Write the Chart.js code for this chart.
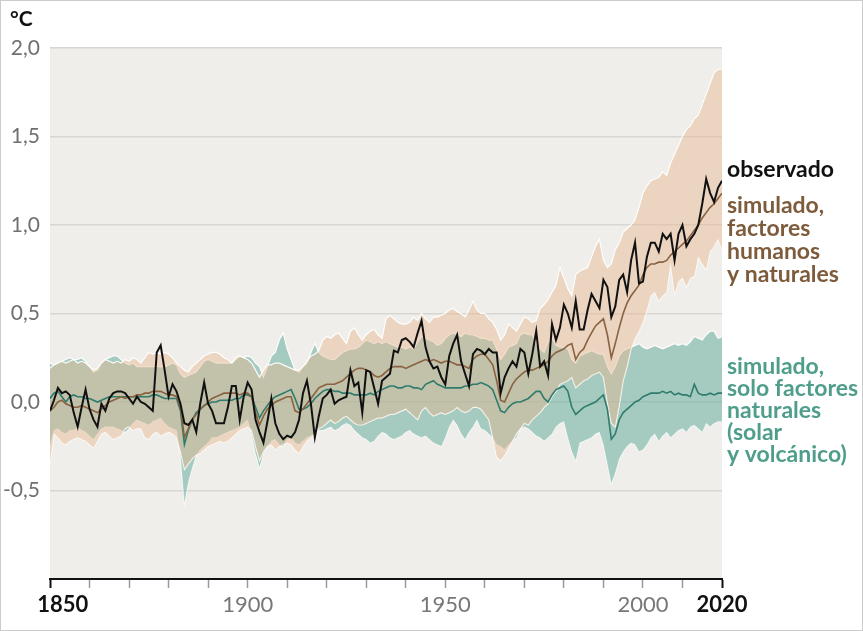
<!DOCTYPE html>
<html>
<head>
<meta charset="utf-8">
<script src="https://cdn.jsdelivr.net/npm/chart.js@4.4.1/dist/chart.umd.min.js"></script>
<style>
  body { margin: 0; background: #fff; }
  canvas { display: block; }
</style>
</head>
<body>
<canvas id="chart" width="863" height="631"></canvas>
<script>
// años 1850-2020, un valor por año (anomalía en °C)
var years = [];
for (var yr = 1850; yr <= 2020; yr++) years.push(yr);

var observado = [
  -0.05, 0.01, 0.08, 0.05, 0.06, 0.04, -0.06, -0.14, -0.03, 0.07,
  -0.04, -0.10, -0.14, -0.01, -0.05, 0.02, 0.05, 0.06, 0.06, 0.05,
  0.02, -0.01, 0.03, 0.00, -0.01, -0.03, -0.05, 0.28, 0.32, 0.18,
  0.03, 0.10, 0.06, -0.01, -0.12, -0.13, -0.10, -0.17, -0.01, 0.11,
  -0.01, -0.05, -0.12, -0.12, -0.12, -0.03, 0.09, 0.09, -0.10, 0.03,
  0.11, 0.07, -0.10, -0.17, -0.23, -0.11, 0.02, -0.12, -0.18, -0.21,
  -0.19, -0.20, -0.17, -0.10, 0.05, 0.12, -0.01, -0.20, -0.08, 0.02,
  0.04, 0.07, -0.01, 0.01, 0.02, 0.03, 0.18, 0.09, 0.11, -0.06,
  0.18, 0.17, 0.08, -0.01, 0.12, 0.14, 0.16, 0.29, 0.28, 0.35,
  0.36, 0.34, 0.31, 0.39, 0.46, 0.31, 0.23, 0.19, 0.20, 0.14,
  0.10, 0.26, 0.33, 0.38, 0.23, 0.16, 0.09, 0.27, 0.30, 0.29,
  0.27, 0.30, 0.28, 0.28, 0.05, 0.14, 0.19, 0.23, 0.20, 0.30,
  0.28, 0.16, 0.27, 0.40, 0.20, 0.23, 0.15, 0.44, 0.35, 0.42,
  0.55, 0.50, 0.42, 0.57, 0.41, 0.41, 0.52, 0.61, 0.57, 0.53,
  0.69, 0.65, 0.48, 0.54, 0.69, 0.72, 0.62, 0.80, 0.90, 0.67,
  0.68, 0.82, 0.90, 0.90, 0.85, 0.95, 0.92, 0.95, 0.80, 0.95,
  1.00, 0.88, 0.92, 0.95, 1.00, 1.12, 1.26, 1.18, 1.13, 1.21,
  1.25
];

// simulado, factores humanos y naturales
var humanos = [
  -0.05, -0.03, 0.00, 0.01, -0.01, -0.02, -0.03, -0.03, -0.02, -0.03,
  -0.04, -0.05, -0.06, -0.04, -0.02, 0.00, 0.01, 0.02, 0.03, 0.02,
  0.03, 0.03, 0.04, 0.04, 0.05, 0.05, 0.06, 0.06, 0.06, 0.05,
  0.04, 0.04, 0.03, -0.03, -0.20, -0.15, -0.10, -0.07, -0.04, -0.02,
  0.00, 0.02, 0.03, 0.04, 0.05, 0.05, 0.05, 0.05, 0.04, 0.05,
  0.05, 0.03, -0.06, -0.13, -0.08, -0.04, -0.02, 0.00, 0.01, 0.02,
  0.03, 0.03, -0.05, -0.06, -0.04, -0.01, 0.02, 0.05, 0.08, 0.09,
  0.10, 0.10, 0.10, 0.11, 0.12, 0.14, 0.16, 0.18, 0.19, 0.19,
  0.18, 0.17, 0.15, 0.14, 0.15, 0.17, 0.19, 0.20, 0.20, 0.20,
  0.19, 0.20, 0.21, 0.22, 0.23, 0.24, 0.23, 0.24, 0.23, 0.22,
  0.23, 0.23, 0.22, 0.21, 0.21, 0.20, 0.19, 0.24, 0.26, 0.27,
  0.27, 0.24, 0.21, 0.12, 0.01, 0.00, 0.05, 0.10, 0.13, 0.15,
  0.17, 0.18, 0.18, 0.19, 0.20, 0.21, 0.23, 0.26, 0.28, 0.29,
  0.30, 0.32, 0.33, 0.24, 0.28, 0.30, 0.35, 0.39, 0.43, 0.45,
  0.47, 0.38, 0.25, 0.33, 0.42, 0.50, 0.56, 0.60, 0.63, 0.66,
  0.72, 0.76, 0.78, 0.78, 0.79, 0.79, 0.80, 0.83, 0.85, 0.87,
  0.89, 0.91, 0.94, 0.97, 1.00, 1.04, 1.07, 1.10, 1.12, 1.15,
  1.18
];
var humanosMax = [
  0.19, 0.21, 0.22, 0.23, 0.22, 0.23, 0.24, 0.22, 0.23, 0.22,
  0.20, 0.18, 0.19, 0.22, 0.24, 0.23, 0.22, 0.23, 0.22, 0.24,
  0.23, 0.25, 0.24, 0.22, 0.25, 0.28, 0.27, 0.28, 0.27, 0.28,
  0.27, 0.25, 0.22, 0.20, 0.18, 0.17, 0.20, 0.22, 0.24, 0.26,
  0.27, 0.28, 0.28, 0.27, 0.25, 0.24, 0.22, 0.25, 0.26, 0.25,
  0.24, 0.22, 0.18, 0.14, 0.18, 0.21, 0.21, 0.22, 0.22, 0.21,
  0.20, 0.19, 0.18, 0.18, 0.20, 0.23, 0.26, 0.27, 0.29, 0.35,
  0.37, 0.36, 0.38, 0.39, 0.36, 0.33, 0.40, 0.42, 0.38, 0.35,
  0.38, 0.40, 0.41, 0.38, 0.36, 0.47, 0.49, 0.47, 0.45, 0.44,
  0.44, 0.45, 0.48, 0.46, 0.50, 0.47, 0.45, 0.48, 0.48, 0.49,
  0.50, 0.52, 0.53, 0.51, 0.50, 0.48, 0.52, 0.57, 0.52, 0.50,
  0.50, 0.47, 0.45, 0.41, 0.35, 0.38, 0.44, 0.42, 0.40, 0.44,
  0.48, 0.47, 0.45, 0.46, 0.53, 0.55, 0.58, 0.62, 0.66, 0.76,
  0.70, 0.64, 0.60, 0.72, 0.74, 0.75, 0.76, 0.82, 0.88, 0.92,
  0.80, 0.76, 0.78, 0.86, 0.90, 0.96, 0.98, 1.00, 1.03, 1.10,
  1.18, 1.22, 1.25, 1.26, 1.27, 1.30, 1.28, 1.35, 1.40, 1.45,
  1.50, 1.54, 1.56, 1.60, 1.62, 1.68, 1.74, 1.80, 1.86, 1.88,
  1.88
];
var humanosMin = [
  -0.35, -0.18, -0.20, -0.23, -0.24, -0.22, -0.21, -0.20, -0.21, -0.22,
  -0.24, -0.26, -0.22, -0.18, -0.17, -0.19, -0.21, -0.20, -0.19, -0.15,
  -0.14, -0.16, -0.15, -0.15, -0.20, -0.21, -0.18, -0.17, -0.19, -0.18,
  -0.17, -0.18, -0.20, -0.28, -0.38, -0.35, -0.32, -0.30, -0.29, -0.27,
  -0.25, -0.24, -0.23, -0.22, -0.23, -0.22, -0.20, -0.18, -0.16, -0.15,
  -0.14, -0.16, -0.25, -0.33, -0.28, -0.25, -0.24, -0.27, -0.25, -0.24,
  -0.23, -0.24, -0.27, -0.29, -0.25, -0.22, -0.20, -0.18, -0.15, -0.14,
  -0.12, -0.10, -0.12, -0.11, -0.09, -0.08, -0.10, -0.12, -0.13, -0.13,
  -0.12, -0.11, -0.10, -0.09, -0.09, -0.08, -0.07, -0.07, -0.06, -0.05,
  -0.04, -0.06, -0.08, -0.10, -0.05, -0.03, -0.06, -0.08, -0.07, -0.06,
  -0.07, -0.06, -0.05, -0.03, -0.05, -0.06, -0.05, -0.03, -0.03, -0.04,
  -0.07, -0.10, -0.20, -0.31, -0.33, -0.30, -0.26, -0.22, -0.18, -0.15,
  -0.12, -0.13, -0.10, -0.08, -0.06, -0.03, -0.01, 0.03, 0.06, 0.10,
  0.11, 0.12, 0.14, 0.08, 0.10, 0.12, 0.13, 0.15, 0.16, 0.17,
  0.14, 0.00, -0.12, -0.14, -0.02, 0.12, 0.20, 0.30, 0.36, 0.40,
  0.45, 0.52, 0.60, 0.62, 0.57, 0.60, 0.62, 0.78, 0.61, 0.68,
  0.70, 0.65, 0.70, 0.71, 0.82, 0.78, 0.75, 0.85, 0.88, 0.92,
  0.86
];

// simulado, solo factores naturales (solar y volcánico)
var naturales = [
  0.02, 0.05, 0.06, 0.03, 0.00, 0.03, 0.04, 0.03, 0.03, 0.02,
  0.02, 0.01, 0.00, 0.01, 0.02, 0.03, 0.03, 0.03, 0.03, 0.03,
  0.03, 0.03, 0.03, 0.03, 0.03, 0.03, 0.04, 0.04, 0.03, 0.02,
  0.02, 0.02, 0.02, -0.05, -0.24, -0.16, -0.10, -0.06, -0.04, -0.02,
  -0.01, 0.00, 0.00, 0.01, 0.01, 0.01, 0.01, 0.02, 0.02, 0.04,
  0.04, 0.03, -0.03, -0.09, -0.05, -0.02, 0.01, 0.03, 0.04, 0.05,
  0.06, 0.07, 0.02, -0.04, -0.04, -0.03, -0.01, 0.02, 0.04, 0.06,
  0.07, 0.07, 0.06, 0.06, 0.05, 0.05, 0.05, 0.04, 0.04, 0.04,
  0.04, 0.05, 0.04, 0.06, 0.07, 0.08, 0.09, 0.09, 0.08, 0.08,
  0.09, 0.09, 0.08, 0.08, 0.07, 0.10, 0.11, 0.12, 0.10, 0.09,
  0.08, 0.08, 0.08, 0.08, 0.08, 0.09, 0.09, 0.10, 0.10, 0.11,
  0.10, 0.09, 0.07, 0.01, -0.05, -0.06, -0.03, -0.01, 0.00, 0.00,
  0.01, 0.02, 0.04, 0.06, 0.06, 0.02, 0.00, 0.04, 0.07, 0.08,
  0.09, 0.06, -0.03, -0.07, -0.05, -0.03, -0.02, -0.01, 0.00, 0.02,
  0.04, -0.04, -0.21, -0.18, -0.10, -0.06, -0.04, -0.02, 0.00, 0.01,
  0.03, 0.04, 0.05, 0.05, 0.05, 0.06, 0.05, 0.06, 0.04, 0.05,
  0.04, 0.04, 0.03, 0.10, 0.05, 0.04, 0.04, 0.05, 0.04, 0.05,
  0.05
];
var naturalesMax = [
  0.22, 0.21, 0.22, 0.23, 0.24, 0.25, 0.24, 0.24, 0.25, 0.23,
  0.20, 0.17, 0.18, 0.22, 0.24, 0.25, 0.26, 0.26, 0.24, 0.22,
  0.21, 0.22, 0.20, 0.20, 0.20, 0.20, 0.20, 0.20, 0.20, 0.20,
  0.21, 0.22, 0.21, 0.16, 0.14, 0.15, 0.16, 0.17, 0.20, 0.23,
  0.24, 0.23, 0.22, 0.22, 0.22, 0.22, 0.22, 0.24, 0.26, 0.25,
  0.26, 0.25, 0.22, 0.20, 0.14, 0.20, 0.26, 0.28, 0.35, 0.39,
  0.30, 0.24, 0.18, 0.17, 0.20, 0.22, 0.28, 0.33, 0.28, 0.26,
  0.25, 0.24, 0.24, 0.26, 0.28, 0.29, 0.30, 0.30, 0.31, 0.33,
  0.35, 0.34, 0.33, 0.34, 0.33, 0.34, 0.33, 0.32, 0.31, 0.31,
  0.30, 0.31, 0.30, 0.34, 0.37, 0.36, 0.35, 0.34, 0.32, 0.33,
  0.36, 0.38, 0.39, 0.38, 0.37, 0.39, 0.38, 0.38, 0.37, 0.36,
  0.36, 0.35, 0.35, 0.30, 0.24, 0.27, 0.31, 0.32, 0.33, 0.38,
  0.39, 0.38, 0.38, 0.33, 0.30, 0.28, 0.34, 0.36, 0.32, 0.31,
  0.31, 0.30, 0.24, 0.22, 0.26, 0.27, 0.28, 0.29, 0.28, 0.27,
  0.27, 0.20, 0.16, 0.20, 0.26, 0.29, 0.30, 0.31, 0.32, 0.33,
  0.31, 0.30, 0.31, 0.32, 0.31, 0.30, 0.31, 0.32, 0.33, 0.32,
  0.33, 0.32, 0.34, 0.37, 0.36, 0.35, 0.38, 0.40, 0.40, 0.36,
  0.37
];
var naturalesMin = [
  -0.25, -0.16, -0.15, -0.17, -0.18, -0.16, -0.16, -0.14, -0.16, -0.17,
  -0.19, -0.21, -0.18, -0.15, -0.14, -0.14, -0.14, -0.15, -0.16, -0.17,
  -0.15, -0.12, -0.10, -0.11, -0.12, -0.13, -0.11, -0.10, -0.09, -0.12,
  -0.14, -0.15, -0.16, -0.30, -0.57, -0.45, -0.37, -0.30, -0.27, -0.25,
  -0.23, -0.20, -0.20, -0.19, -0.18, -0.17, -0.16, -0.15, -0.14, -0.12,
  -0.10, -0.18, -0.29, -0.37, -0.29, -0.25, -0.22, -0.21, -0.24, -0.25,
  -0.21, -0.20, -0.23, -0.24, -0.22, -0.20, -0.19, -0.18, -0.16, -0.16,
  -0.15, -0.14, -0.16, -0.15, -0.13, -0.12, -0.13, -0.16, -0.18, -0.20,
  -0.21, -0.23, -0.22, -0.19, -0.17, -0.18, -0.20, -0.21, -0.20, -0.19,
  -0.17, -0.16, -0.18, -0.19, -0.20, -0.19, -0.21, -0.23, -0.24, -0.25,
  -0.20, -0.14, -0.10, -0.13, -0.18, -0.21, -0.17, -0.14, -0.10, -0.15,
  -0.16, -0.18, -0.20, -0.24, -0.25, -0.27, -0.24, -0.22, -0.20, -0.15,
  -0.14, -0.15, -0.17, -0.19, -0.20, -0.22, -0.20, -0.18, -0.14, -0.12,
  -0.11, -0.20, -0.28, -0.33, -0.23, -0.22, -0.21, -0.20, -0.18, -0.17,
  -0.24, -0.35, -0.46, -0.40, -0.32, -0.28, -0.25, -0.23, -0.24, -0.28,
  -0.27, -0.24, -0.20, -0.18, -0.22, -0.19, -0.17, -0.20, -0.18, -0.16,
  -0.15, -0.17, -0.14, -0.13, -0.15, -0.17, -0.12, -0.14, -0.12, -0.11,
  -0.11
];

var yearLabels = [1850, 1900, 1950, 2000, 2020];
var boldYears = [1850, 2020];

var labelObservado = ["observado"];
var labelHumanos = ["simulado,", "factores", "humanos", "y naturales"];
var labelNaturales = ["simulado,", "solo factores", "naturales", "(solar", "y volcánico)"];

function pts(arr) {
  return arr.map(function (v, i) { return { x: years[i], y: v }; });
}

var bgPlugin = {
  id: 'plotBg',
  beforeDraw: function (chart) {
    var c = chart.ctx, a = chart.chartArea;
    c.save();
    c.fillStyle = '#ffffff';
    c.fillRect(0, 0, chart.width, chart.height);
    c.fillStyle = '#efeeea';
    c.fillRect(a.left, a.top, a.right - a.left, a.bottom - a.top);
    c.restore();
  },
  afterDraw: function (chart) {
    var c = chart.ctx, a = chart.chartArea;
    var ys = chart.scales.y;
    c.save();
    // marco
    c.strokeStyle = '#cccccc';
    c.lineWidth = 1;
    c.strokeRect(0.5, 0.5, chart.width - 1, chart.height - 1);
    // unidad
    c.fillStyle = '#111';
    c.font = 'bold 21px Lato';
    c.textBaseline = 'alphabetic';
    c.fillText('°C', 10, 26);
    // etiquetas de series
    var x = a.right + 5;
    c.font = 'bold 23px Lato';
    function block(lines, value, color, step) {
      var y0 = ys.getPixelForValue(value);
      c.fillStyle = color;
      lines.forEach(function (t, i) { c.fillText(t, x, y0 + i * step); });
    }
    block(labelObservado, 1.27, '#111111', 23);
    block(labelHumanos, 1.07, '#7d5b3b', 23);
    block(labelNaturales, 0.16, '#4f9d8b', 22);
    c.restore();
  }
};

var bandBorder = 'rgba(255,255,255,0.95)';

new Chart(document.getElementById('chart'), {
  type: 'line',
  data: {
    datasets: [
      { label: 'observado', data: pts(observado), borderColor: '#111111', borderWidth: 2, pointRadius: 0, fill: false },
      { label: 'humanos', data: pts(humanos), borderColor: '#8a6240', borderWidth: 1.6, pointRadius: 0, fill: false },
      { label: 'naturales', data: pts(naturales), borderColor: '#2f7c6c', borderWidth: 1.6, pointRadius: 0, fill: false },
      { label: 'humanosMax', data: pts(humanosMax), borderColor: bandBorder, borderWidth: 1.2, pointRadius: 0,
        fill: '+1', backgroundColor: 'rgba(230,182,142,0.45)' },
      { label: 'humanosMin', data: pts(humanosMin), borderColor: bandBorder, borderWidth: 1.2, pointRadius: 0, fill: false },
      { label: 'naturalesMax', data: pts(naturalesMax), borderColor: bandBorder, borderWidth: 1.2, pointRadius: 0,
        fill: '+1', backgroundColor: 'rgba(92,168,152,0.5)' },
      { label: 'naturalesMin', data: pts(naturalesMin), borderColor: bandBorder, borderWidth: 1.2, pointRadius: 0, fill: false }
    ]
  },
  options: {
    responsive: false,
    animation: false,
    devicePixelRatio: 1,
    layout: { padding: { top: 48, right: 141, bottom: 0, left: 0 } },
    plugins: {
      legend: { display: false },
      tooltip: { enabled: false }
    },
    scales: {
      x: {
        type: 'linear',
        min: 1850,
        max: 2020,
        afterFit: function (s) { s.height = 52; },
        border: { display: true, color: '#111', width: 2 },
        grid: {
          drawOnChartArea: false,
          tickLength: 9,
          tickColor: function (ctx) {
            return ctx.tick && boldYears.indexOf(ctx.tick.value) >= 0 ? '#111' : '#9a9a9a';
          },
          tickWidth: function (ctx) {
            return ctx.tick && boldYears.indexOf(ctx.tick.value) >= 0 ? 2 : 1.5;
          }
        },
        ticks: {
          stepSize: 10,
          autoSkip: false,
          maxRotation: 0,
          padding: 4,
          color: function (ctx) {
            return ctx.tick && boldYears.indexOf(ctx.tick.value) >= 0 ? '#111' : '#777';
          },
          font: function (ctx) {
            var b = ctx.tick && boldYears.indexOf(ctx.tick.value) >= 0;
            return { family: 'Lato', size: 22, weight: b ? 'bold' : 'normal' };
          },
          callback: function (v) {
            if (yearLabels.indexOf(v) < 0) return '';
            return v === 1850 ? '\u2007\u20071850' : String(v);
          }
        }
      },
      y: {
        min: -1,
        max: 2,
        afterFit: function (s) { s.width = 50; },
        border: { display: false },
        grid: {
          drawTicks: false,
          lineWidth: 1.5,
          color: function (ctx) {
            return ctx.tick && ctx.tick.value <= -1 ? 'rgba(0,0,0,0)' : '#d8d6d1';
          }
        },
        ticks: {
          stepSize: 0.5,
          padding: 10,
          color: '#707070',
          font: { family: 'Lato', size: 21 },
          callback: function (v) {
            if (v <= -1) return '';
            return v.toFixed(1).replace('.', ',');
          }
        }
      }
    }
  },
  plugins: [bgPlugin]
});
</script>
</body>
</html>
